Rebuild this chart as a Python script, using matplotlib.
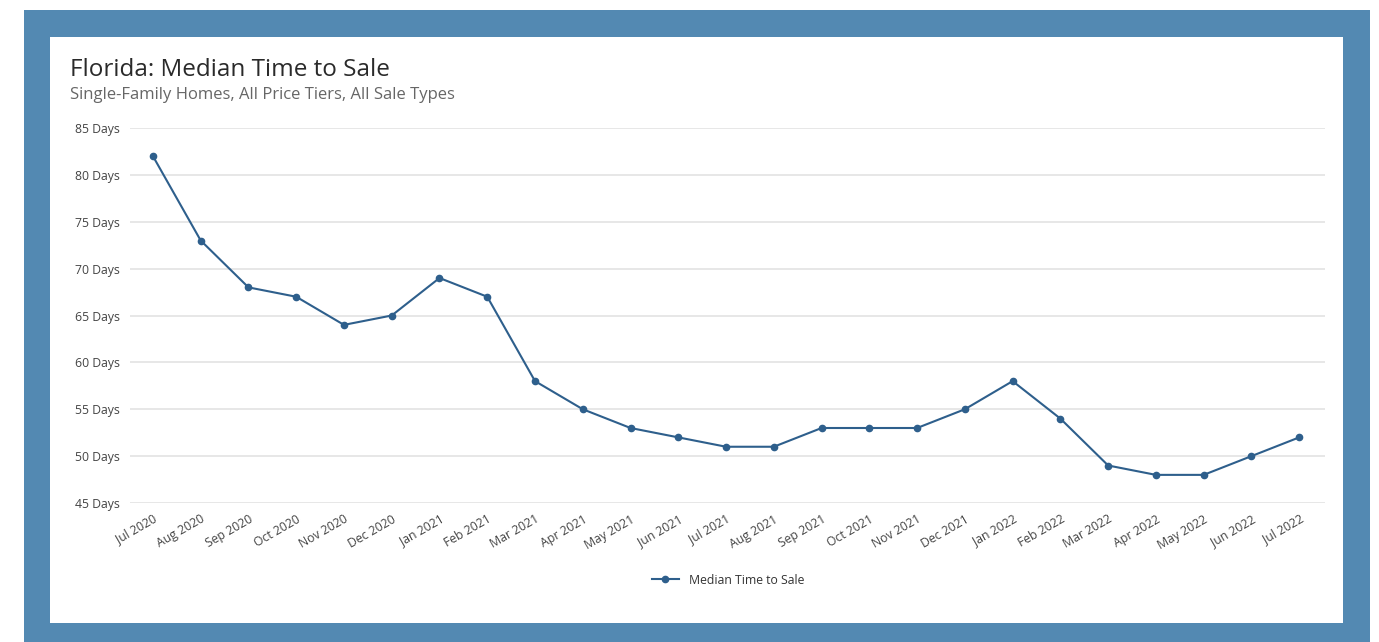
import matplotlib.pyplot as plt
from matplotlib.patches import Rectangle

months = ["Jul 2020", "Aug 2020", "Sep 2020", "Oct 2020", "Nov 2020", "Dec 2020",
          "Jan 2021", "Feb 2021", "Mar 2021", "Apr 2021", "May 2021", "Jun 2021",
          "Jul 2021", "Aug 2021", "Sep 2021", "Oct 2021", "Nov 2021", "Dec 2021",
          "Jan 2022", "Feb 2022", "Mar 2022", "Apr 2022", "May 2022", "Jun 2022",
          "Jul 2022"]
median_days = [82, 73, 68, 67, 64, 65, 69, 67, 58, 55, 53, 52, 51, 51, 53, 53, 53,
               55, 58, 54, 49, 48, 48, 50, 52]
y_ticks = [45, 50, 55, 60, 65, 70, 75, 80, 85]

W, H = 1379, 642
plt.rcParams['font.family'] = ['Open Sans', 'DejaVu Sans']

fig = plt.figure(figsize=(W / 100, H / 100), dpi=100)
fig.patch.set_facecolor('white')

# blue frame and white card (kept below the axes)
fig.patches.append(Rectangle((24 / W, 0), (1370 - 24) / W, (H - 10) / H,
                             transform=fig.transFigure, facecolor='#5389b2',
                             edgecolor='none', zorder=-2))
fig.patches.append(Rectangle((50 / W, (H - 623) / H), (1343 - 50) / W, (623 - 37) / H,
                             transform=fig.transFigure, facecolor='white',
                             edgecolor='none', zorder=-1))

ax = fig.add_axes([130 / W, (H - 503) / H, (1325 - 130) / W, (503 - 128) / H])
ax.set_facecolor('none')

x = list(range(len(months)))
ax.plot(x, median_days, color='#2e5f8c', linewidth=1.5, marker='o', markersize=4.5,
        label='Median Time to Sale', zorder=3)

ax.set_xlim(-0.48, len(months) - 1 + 0.54)
ax.set_ylim(45, 85)
ax.set_yticks(y_ticks)
ax.set_yticklabels([f"{v} Days" for v in y_ticks])
ax.set_xticks(x)
ax.set_xticklabels(months, rotation=30, ha='right', rotation_mode='anchor')
ax.tick_params(axis='both', length=0, labelsize=8.8, colors='#444444')
ax.tick_params(axis='y', pad=7)
ax.tick_params(axis='x', pad=7)
ax.grid(axis='y', color='#e3e3e3', linewidth=1.2)
ax.set_axisbelow(True)
for s in ax.spines.values():
    s.set_visible(False)

fig.text(70 / W, 1 - 70 / H, "Florida: Median Time to Sale", fontsize=17.5,
         color='#2a2a2a', va='center', ha='left')
fig.text(70 / W, 1 - 95 / H, "Single-Family Homes, All Price Tiers, All Sale Types",
         fontsize=12, color='#666666', va='center', ha='left')

fig.legend(loc='center', bbox_to_anchor=(728 / W, 1 - 580 / H), frameon=False,
           fontsize=8.8, handlelength=2.2, labelcolor='#333333')

fig.savefig('out.png', dpi=100)
